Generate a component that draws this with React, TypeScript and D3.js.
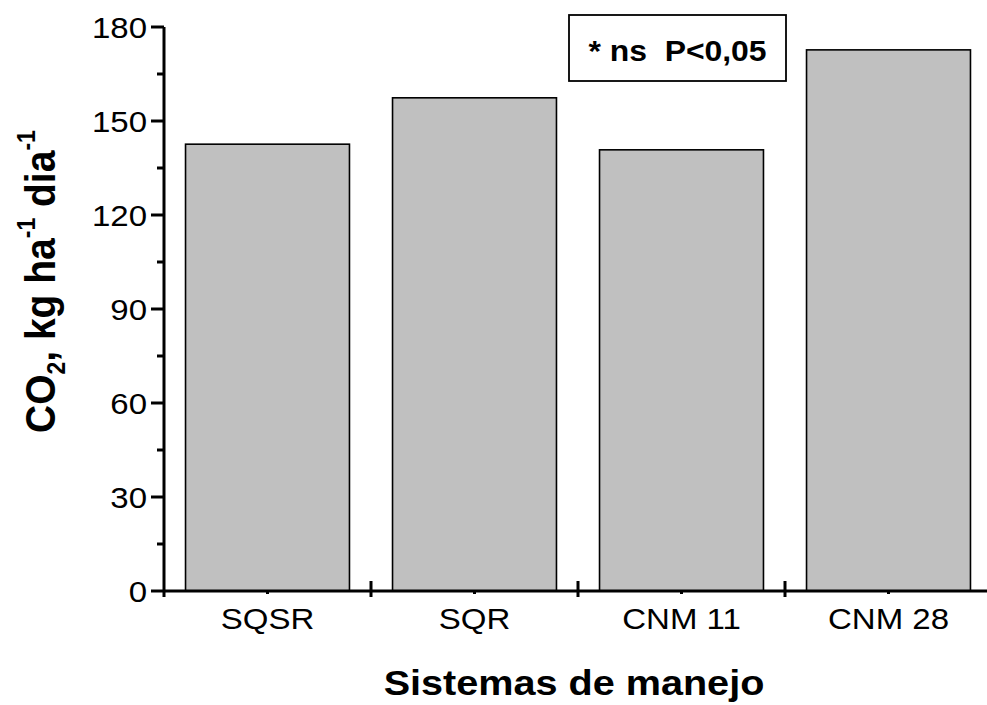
import React from "react";
import * as d3 from "d3";

const categories = ["SQSR", "SQR", "CNM 11", "CNM 28"];
const values = [142.6, 157.4, 140.8, 172.7];
const yTicks = [0, 30, 60, 90, 120, 150, 180];
const yMinorTicks = [15, 45, 75, 105, 135, 165];
const noteText = "* ns  P<0,05";
const xTitle = "Sistemas de manejo";

const W = 987;
const H = 705;
const FONT = "Liberation Sans, Arial, Helvetica, sans-serif";
// text in this figure is set slightly wide
const SX = 1.1;

export default function App() {
  const x = d3
    .scaleBand<string>()
    .domain(categories)
    .range([164, 992])
    .paddingInner(0.208)
    .paddingOuter(0.104);
  const y = d3.scaleLinear().domain([0, 180]).range([591, 27]);
  const step = x.step();
  const x0 = 164;
  const y0 = y(0);

  const boundaries = categories.map((_, i) => x0 + step * (i + 1)).filter((v) => v < W);

  return (
    <svg
      width={W}
      height={H}
      viewBox={`0 0 ${W} ${H}`}
      style={{ position: "absolute", left: 0, top: 0, background: "#fff" }}
      fontFamily={FONT}
    >
      <rect x={0} y={0} width={W} height={H} fill="#fff" />

      {/* bars */}
      {categories.map((c, i) => (
        <rect
          key={c}
          x={x(c)}
          y={y(values[i])}
          width={x.bandwidth()}
          height={y0 - y(values[i])}
          fill="#c0c0c0"
          stroke="#000"
          strokeWidth={1.6}
        />
      ))}

      {/* y axis */}
      <line x1={x0} x2={x0} y1={y(180)} y2={y0 + 6} stroke="#000" strokeWidth={3} />
      {yTicks.map((t) => (
        <g key={t}>
          <line x1={x0 - 13} x2={x0} y1={y(t)} y2={y(t)} stroke="#000" strokeWidth={3} />
          <text
            transform={`translate(${x0 - 17},${y(t)}) scale(${SX},1)`}
            dy="0.36em"
            textAnchor="end"
            fontSize={30}
            fill="#000"
          >
            {t}
          </text>
        </g>
      ))}
      {yMinorTicks.map((t) => (
        <line key={t} x1={x0 - 7} x2={x0} y1={y(t)} y2={y(t)} stroke="#000" strokeWidth={3} />
      ))}

      {/* x axis */}
      <line x1={x0} x2={W + 5} y1={y0} y2={y0} stroke="#000" strokeWidth={3} />
      {boundaries.map((b) => (
        <line key={b} x1={b} x2={b} y1={y0 - 10} y2={y0 + 6} stroke="#000" strokeWidth={3} />
      ))}
      {categories.map((c) => {
        const cx = (x(c) ?? 0) + x.bandwidth() / 2;
        return (
          <g key={c}>
            <line x1={cx} x2={cx} y1={y0} y2={y0 + 3} stroke="#000" strokeWidth={3} />
            <text
              transform={`translate(${cx},629) scale(${SX},1)`}
              textAnchor="middle"
              fontSize={30}
              fill="#000"
            >
              {c}
            </text>
          </g>
        );
      })}

      {/* axis titles */}
      <text
        transform={`translate(574,695) scale(${SX},1)`}
        textAnchor="middle"
        fontSize={36}
        fontWeight="bold"
        fill="#000"
      >
        {xTitle}
      </text>
      <text
        transform={`translate(55,433) rotate(-90) scale(1,${SX})`}
        fontSize={39}
        fontWeight="bold"
        fill="#000"
      >
        <tspan>CO</tspan>
        <tspan fontSize={23} dy={9}>2</tspan>
        <tspan dy={-9}>, kg ha</tspan>
        <tspan fontSize={23} dy={-18}>-1</tspan>
        <tspan dy={18}> dia</tspan>
        <tspan fontSize={23} dy={-18}>-1</tspan>
      </text>

      {/* significance note */}
      <rect x={569} y={15} width={217} height={66} fill="#fff" stroke="#000" strokeWidth={1.8} />
      <text
        transform={`translate(677.5,61) scale(${SX},1)`}
        textAnchor="middle"
        fontSize={29}
        fontWeight="bold"
        fill="#000"
        style={{ whiteSpace: "pre" }}
      >
        {noteText}
      </text>
    </svg>
  );
}
